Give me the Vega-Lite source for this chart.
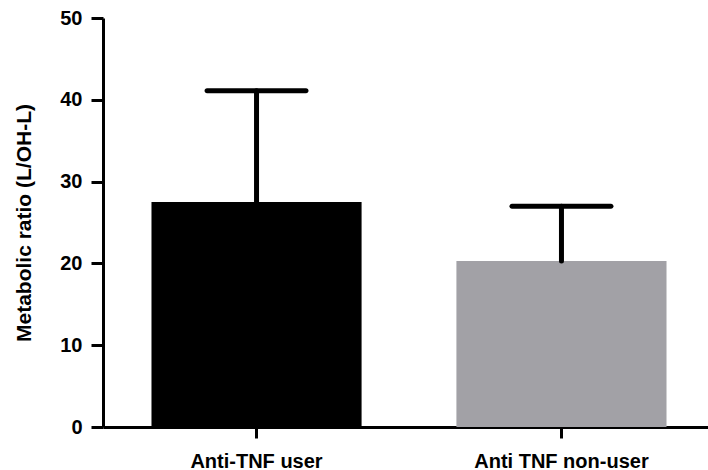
{
  "$schema": "https://vega.github.io/schema/vega-lite/v6.json",
  "width": 612,
  "height": 409,
  "autosize": {"type": "none"},
  "padding": {"left": 103, "top": 18, "right": 0, "bottom": 43},
  "background": "white",
  "config": {
    "view": {"stroke": null},
    "font": "Liberation Sans"
  },
  "data": {
    "values": [
      {"group": "Anti-TNF user", "mean": 27.5, "upper": 41.1},
      {"group": "Anti TNF non-user", "mean": 20.3, "upper": 27.0}
    ]
  },
  "encoding": {
    "x": {
      "field": "group",
      "type": "nominal",
      "sort": ["Anti-TNF user", "Anti TNF non-user"],
      "scale": {"paddingInner": 0.311, "paddingOuter": 0.159},
      "axis": {
        "title": null,
        "labelAngle": 0,
        "domainColor": "black",
        "domainWidth": 3,
        "tickColor": "black",
        "tickWidth": 3,
        "tickSize": 11,
        "labelPadding": 13,
        "labelFont": "Liberation Sans",
        "labelFontWeight": "bold",
        "labelFontSize": 20,
        "labelColor": "black"
      }
    }
  },
  "layer": [
    {
      "mark": {"type": "bar"},
      "encoding": {
        "y": {
          "field": "mean",
          "type": "quantitative",
          "scale": {"domain": [0, 50], "nice": false},
          "axis": {
            "title": "Metabolic ratio (L/OH-L)",
            "values": [0, 10, 20, 30, 40, 50],
            "grid": false,
            "domainColor": "black",
            "domainWidth": 3,
            "tickColor": "black",
            "tickWidth": 3,
            "tickSize": 12,
            "labelPadding": 9,
            "labelFont": "Liberation Sans",
            "labelFontWeight": "bold",
            "labelFontSize": 20,
            "labelColor": "black",
            "titleFont": "Liberation Sans",
            "titleFontWeight": "bold",
            "titleFontSize": 21,
            "titleColor": "black",
            "titleAngle": 270,
            "titleAlign": "center",
            "titleBaseline": "alphabetic",
            "titleX": -73,
            "titleY": 204.5
          }
        },
        "color": {
          "field": "group",
          "type": "nominal",
          "scale": {"domain": ["Anti-TNF user", "Anti TNF non-user"], "range": ["#000000", "#a2a1a6"]},
          "legend": null
        }
      }
    },
    {
      "mark": {"type": "rule", "color": "black", "strokeWidth": 5, "strokeCap": "round"},
      "encoding": {
        "y": {"field": "mean", "type": "quantitative"},
        "y2": {"field": "upper"}
      }
    },
    {
      "mark": {"type": "tick", "color": "black", "thickness": 5, "size": 104, "cornerRadius": 2.5, "opacity": 1},
      "encoding": {
        "y": {"field": "upper", "type": "quantitative"}
      }
    }
  ]
}
